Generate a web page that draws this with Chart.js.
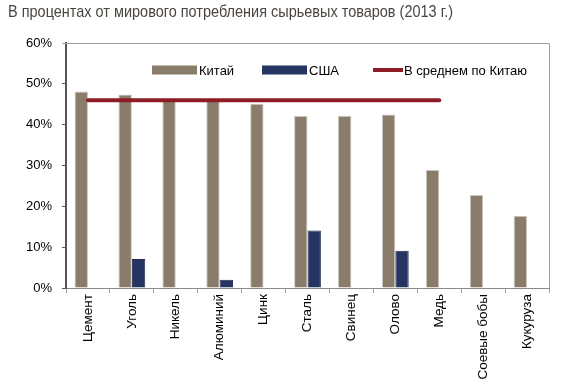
<!DOCTYPE html>
<html>
<head>
<meta charset="utf-8">
<script src="https://cdn.jsdelivr.net/npm/chart.js@4"></script>
<style>
html,body{margin:0;padding:0;background:#fff;}
#wrap{width:562px;height:380px;position:relative;}
</style>
</head>
<body>
<div id="wrap"><canvas id="c" width="562" height="380"></canvas></div>
<script>
const titleText = 'В процентах от мирового потребления сырьевых товаров (2013 г.)';
const categories = ['Цемент','Уголь','Никель','Алюминий','Цинк','Сталь','Свинец','Олово','Медь','Соевые бобы','Кукуруза'];
const chinaValues = [48.1, 47.4, 46.2, 46.4, 45.1, 42.1, 42.2, 42.5, 28.9, 22.8, 17.7];
const usaValues = [null, 7.1, null, 2.0, null, 14.1, null, 9.1, null, null, null];
const chinaAverage = [46, 46, 46, 46, 46, 46, 46, 46, 46, null, null];
const yTicks = [0, 10, 20, 30, 40, 50, 60];
const seriesLabels = ['Китай', 'США', 'В среднем по Китаю'];

const FONT = "'Liberation Sans', Arial, sans-serif";
const C_CHINA = '#8a7c6a';
const C_USA = '#253461';
const C_AVG = '#8e1c26';

const titlePlugin = {
  id: 'titleDraw',
  afterDraw(chart) {
    const ctx = chart.ctx;
    ctx.save();
    ctx.font = '17px ' + FONT;
    ctx.fillStyle = '#4a4540';
    ctx.textBaseline = 'middle';
    const w = ctx.measureText(titleText).width;
    const sx = 445 / w;
    ctx.translate(8, 12);
    ctx.scale(sx, 1);
    ctx.fillText(titleText, 0, 0);
    ctx.restore();
  }
};

const framePlugin = {
  id: 'frame',
  afterDraw(chart) {
    const a = chart.chartArea, ctx = chart.ctx;
    ctx.save();
    ctx.strokeStyle = '#a0a0a0';
    ctx.lineWidth = 1;
    ctx.beginPath();
    ctx.moveTo(a.left - 4, a.top + 0.5);
    ctx.lineTo(a.right + 0.5, a.top + 0.5);
    ctx.lineTo(a.right + 0.5, a.bottom);
    ctx.stroke();
    ctx.restore();
  }
};

const legendPlugin = {
  id: 'customLegend',
  afterDraw(chart) {
    const ctx = chart.ctx;
    const ds = chart.data.datasets;
    const items = [
      {x: 152, w: 45, h: 9, color: ds[0].backgroundColor, label: ds[0].label, tx: 199},
      {x: 262, w: 45, h: 9, color: ds[1].backgroundColor, label: ds[1].label, tx: 309},
      {x: 373, w: 30, h: 4, color: ds[2].borderColor, label: ds[2].label, tx: 404}
    ];
    const cy = 70;
    ctx.save();
    ctx.font = '13px ' + FONT;
    ctx.textBaseline = 'middle';
    items.forEach(it => {
      ctx.fillStyle = it.color;
      ctx.fillRect(it.x, cy - it.h / 2, it.w, it.h);
      ctx.fillStyle = '#000';
      ctx.fillText(it.label, it.tx, cy + 1);
    });
    ctx.restore();
  }
};

new Chart(document.getElementById('c'), {
  type: 'bar',
  data: {
    labels: categories,
    datasets: [
      {label: seriesLabels[0], data: chinaValues, backgroundColor: C_CHINA, borderColor: '#cfc6bb', borderWidth: 1, order: 1},
      {label: seriesLabels[1], data: usaValues, backgroundColor: C_USA, borderColor: '#1f2b52', borderWidth: 1, order: 1},
      {label: seriesLabels[2], type: 'line', data: chinaAverage, borderColor: C_AVG, backgroundColor: C_AVG,
       borderWidth: 4, pointRadius: 0, borderCapStyle: 'round', fill: false, spanGaps: false, order: 0}
    ]
  },
  options: {
    responsive: false,
    animation: false,
    devicePixelRatio: 1,
    layout: {padding: {top: 43, right: 13, left: 0, bottom: 0}},
    datasets: {bar: {categoryPercentage: 0.61, barPercentage: 1.0}},
    plugins: {legend: {display: false}, tooltip: {enabled: false}, title: {display: false}},
    scales: {
      x: {
        offset: true,
        grid: {offset: true, drawOnChartArea: false, drawTicks: true, tickLength: 5, color: '#a0a0a0'},
        border: {display: true, color: '#8a8a8a', width: 1},
        ticks: {minRotation: 90, maxRotation: 90, autoSkip: false, padding: 1, color: '#000', font: {family: FONT, size: 13.5}},
        afterFit(s) { s.height = 92; }
      },
      y: {
        min: 0, max: 60,
        afterBuildTicks(s) { s.ticks = yTicks.map(v => ({value: v})); },
        grid: {drawOnChartArea: false, drawTicks: true, tickLength: 4, color: '#555'},
        border: {display: true, color: '#555', width: 2},
        ticks: {padding: 10, color: '#000', font: {family: FONT, size: 13}, callback: v => v + '%'},
        afterFit(s) { s.width = 66; }
      }
    }
  },
  plugins: [framePlugin, legendPlugin, titlePlugin]
});
</script>
</body>
</html>
